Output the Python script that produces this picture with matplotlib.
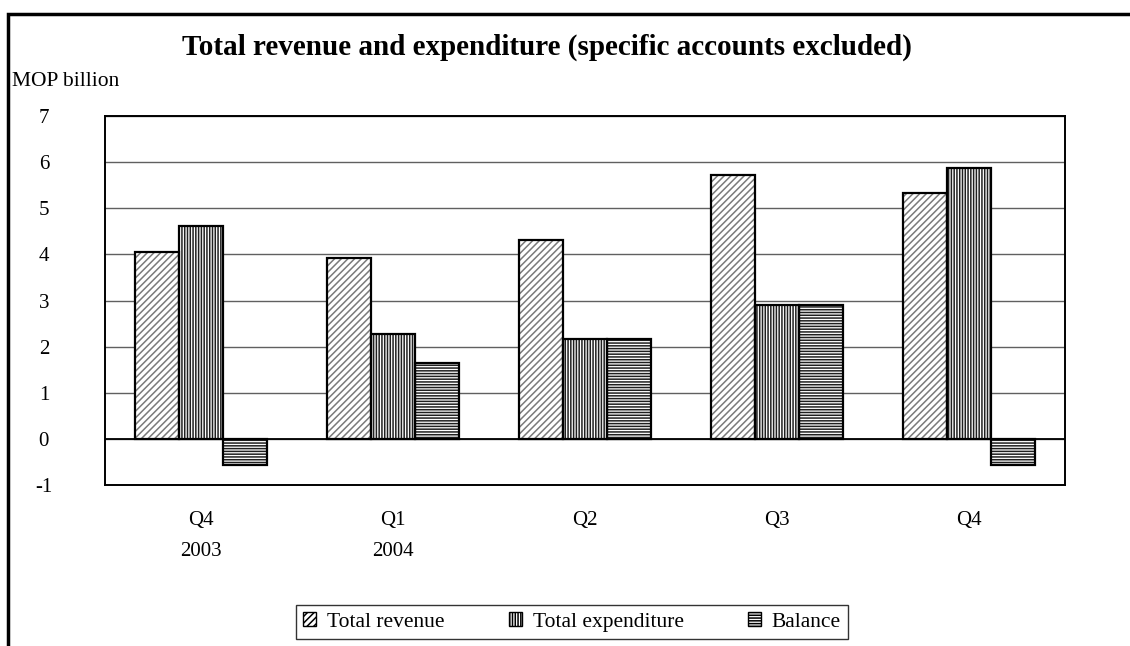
import numpy as np
import matplotlib.pyplot as plt
from matplotlib.patches import Rectangle, Patch

plt.rcParams['font.family'] = ['Liberation Serif', 'DejaVu Serif']
plt.rcParams['hatch.linewidth'] = 1.1
plt.rcParams['axes.unicode_minus'] = False

quarters = ['Q4\n2003', 'Q1\n2004', 'Q2', 'Q3', 'Q4']
revenue = [4.05, 3.93, 4.32, 5.73, 5.32]
expenditure = [4.62, 2.28, 2.17, 2.90, 5.87]
balance = [-0.57, 1.65, 2.17, 2.90, -0.57]

series = [
    ('Total revenue', revenue, '/////', '#7a7a7a'),
    ('Total expenditure', expenditure, '||||||', '#202020'),
    ('Balance', balance, '------', '#202020'),
]

fig = plt.figure(figsize=(11.3, 6.46), dpi=100)
ax = fig.add_axes([105 / 1130, 1 - 485 / 646, 960 / 1130, 369 / 646])

x = np.arange(len(quarters))
w = 0.229
for i, (name, vals, hatch, hc) in enumerate(series):
    pos = x + (i - 1) * w
    # hatch fill first, then a black outline on top
    ax.bar(pos, vals, w, color='white', edgecolor=hc, hatch=hatch, linewidth=0, zorder=3)
    ax.bar(pos, vals, w, fill=False, edgecolor='black', linewidth=1.6, zorder=4)

ax.set_xlim(-0.5, len(quarters) - 0.5)
ax.set_ylim(-1, 7)
ax.set_yticks(range(-1, 8))
ax.set_xticks(x)
ax.set_xticklabels(quarters, linespacing=1.85, fontsize=15, va='top')
ax.tick_params(axis='y', length=0, pad=44, labelsize=15)
ax.tick_params(axis='x', length=0, pad=18.5)
for lbl in ax.get_yticklabels():
    lbl.set_horizontalalignment('center')
ax.grid(axis='y', color='#606060', linewidth=1.0, zorder=0)
ax.axhline(0, color='black', linewidth=1.3, zorder=2)
for s in ax.spines.values():
    s.set_linewidth(1.4)

fig.text(547 / 1130, 1 - 47 / 646, 'Total revenue and expenditure (specific accounts excluded)',
         ha='center', va='center', fontsize=21, fontweight='bold')
fig.text(12 / 1130, 1 - 82 / 646, 'MOP billion', ha='left', va='center', fontsize=15.5)

# outer chart frame, running off the right and bottom edges
fig.patches.append(Rectangle((8 / 1130, -0.1), 1.2, 1 - 14 / 646 + 0.1,
                             transform=fig.transFigure, fill=False,
                             edgecolor='black', linewidth=2.5))

handles = [Patch(facecolor='white', edgecolor='black', hatch=h, linewidth=1.0) for _, _, h, _ in series]
leg = fig.legend(handles, [s[0] for s in series], ncol=3, loc='center',
                 bbox_to_anchor=(572 / 1130, 1 - 622 / 646), fontsize=15.5,
                 frameon=True, fancybox=False, edgecolor='black',
                 handlelength=0.6, handleheight=0.6, handletextpad=0.5,
                 columnspacing=3.0, borderpad=0.35)
leg.get_frame().set_linewidth(1.0)

fig.savefig('out.png', dpi=100)
